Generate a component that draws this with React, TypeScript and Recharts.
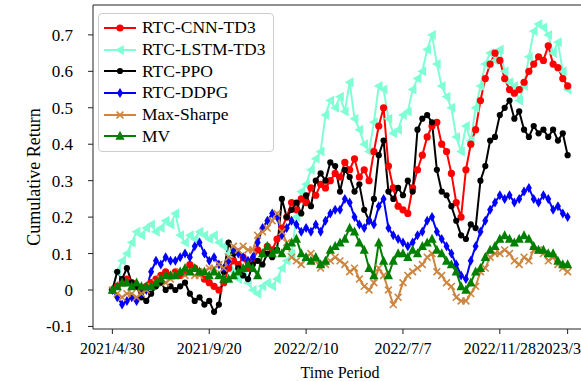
import { LineChart, Line, XAxis, YAxis, Legend, ReferenceLine } from "recharts";

// trading-day index of each x tick and its label
const tickIdx = [0, 20, 40, 60, 80, 94];
const tickLabels = ["2021/4/30", "2021/9/20", "2022/2/10", "2022/7/7", "2022/11/28", "2023/3"];
const yTicks = [-0.1, 0, 0.1, 0.2, 0.3, 0.4, 0.5, 0.6, 0.7];

const cnnTd3 = [
  0.0, 0.01, 0.02, 0.03, 0.02, 0.01, 0.0, 0.01, 0.02, 0.03,
  0.04, 0.05, 0.04, 0.05, 0.04, 0.05, 0.07, 0.06, 0.05, 0.03,
  0.02, 0.01, 0.0, 0.02, 0.06, 0.08, 0.07, 0.09, 0.06, 0.08,
  0.11, 0.1, 0.12, 0.11, 0.14, 0.17, 0.2, 0.24, 0.22, 0.25,
  0.24, 0.28, 0.26, 0.29, 0.28, 0.3, 0.32, 0.31, 0.35, 0.33,
  0.36, 0.31, 0.33, 0.3, 0.38, 0.45, 0.5, 0.34, 0.28, 0.23,
  0.22, 0.21, 0.28, 0.33, 0.37, 0.42, 0.45, 0.46, 0.4, 0.38,
  0.32, 0.24, 0.2, 0.33, 0.4, 0.44, 0.52, 0.58, 0.62, 0.65,
  0.63, 0.58, 0.55, 0.54, 0.55, 0.57, 0.6, 0.62, 0.64, 0.63,
  0.67, 0.62, 0.61, 0.58, 0.56,
];

const lstmTd3 = [
  0.0, 0.05, 0.08, 0.1, 0.13, 0.16, 0.15, 0.17, 0.18, 0.16,
  0.17, 0.19, 0.18, 0.21, 0.15, 0.13, 0.15, 0.14, 0.16, 0.15,
  0.14, 0.15, 0.13, 0.12, 0.1, 0.05, 0.03, 0.04, 0.02, 0.0,
  -0.01, 0.01, 0.02, 0.01, 0.03, 0.06, 0.08, 0.1, 0.2, 0.27,
  0.29, 0.33, 0.36, 0.38, 0.48, 0.52, 0.5, 0.53, 0.49, 0.57,
  0.47, 0.44, 0.4, 0.38, 0.46, 0.56, 0.55, 0.47, 0.43, 0.44,
  0.48, 0.49, 0.55, 0.58, 0.6, 0.66, 0.7, 0.62, 0.56, 0.53,
  0.5, 0.42, 0.38, 0.45, 0.41, 0.5, 0.56, 0.62, 0.65, 0.63,
  0.66, 0.6, 0.57, 0.56, 0.52, 0.56, 0.64, 0.71, 0.73, 0.72,
  0.7, 0.65, 0.68, 0.6, 0.55,
];

const ppo = [
  0.0, 0.05, 0.03, 0.06, 0.02, 0.01, -0.02, -0.03, -0.01, 0.01,
  0.02, 0.0, 0.01, 0.0, 0.01, 0.02, -0.01, -0.03, -0.02, -0.04,
  -0.03, -0.06, -0.04, 0.05, 0.13, 0.1, 0.06, 0.04, 0.03, 0.07,
  0.08, 0.07, 0.1, 0.09, 0.11, 0.25, 0.2, 0.22, 0.24, 0.21,
  0.26, 0.23, 0.3, 0.32, 0.3, 0.35, 0.34, 0.27, 0.33, 0.31,
  0.27, 0.29, 0.22, 0.19, 0.25, 0.37, 0.41, 0.27, 0.25, 0.28,
  0.26, 0.3, 0.27, 0.44, 0.47, 0.48, 0.46, 0.33, 0.27, 0.26,
  0.23, 0.19, 0.15, 0.14, 0.18, 0.17, 0.3, 0.34, 0.41, 0.42,
  0.48, 0.5, 0.52, 0.47, 0.49, 0.44, 0.42, 0.45, 0.43, 0.44,
  0.42, 0.44, 0.41, 0.43, 0.37,
];

const ddpg = [
  0.0, -0.02, -0.04, -0.03, -0.02, -0.03, -0.01, 0.0, 0.05, 0.08,
  0.07, 0.09, 0.08, 0.08, 0.09, 0.1, 0.09, 0.12, 0.13, 0.1,
  0.08, 0.09, 0.07, 0.06, 0.08, 0.11, 0.1, 0.09, 0.08, 0.09,
  0.13, 0.17, 0.19, 0.21, 0.2, 0.15, 0.17, 0.19, 0.18, 0.16,
  0.17, 0.16, 0.18, 0.16, 0.19, 0.21, 0.22, 0.22, 0.25, 0.24,
  0.2, 0.18, 0.17, 0.19, 0.18, 0.23, 0.25, 0.17, 0.15, 0.14,
  0.13, 0.12, 0.13, 0.15, 0.16, 0.19, 0.2, 0.16, 0.14, 0.12,
  0.1, 0.07, 0.04, 0.03, 0.08, 0.12, 0.16, 0.19, 0.22, 0.24,
  0.26, 0.25, 0.26, 0.24, 0.25, 0.27, 0.28, 0.25, 0.24, 0.26,
  0.25, 0.22, 0.23, 0.21, 0.2,
];

const maxSharpe = [
  0.0, -0.01, -0.02, -0.01, -0.01, -0.02, -0.01, 0.0, 0.01, 0.02,
  0.03, 0.02, 0.03, 0.04, 0.05, 0.04, 0.05, 0.04, 0.04, 0.05,
  0.06, 0.06, 0.07, 0.06, 0.09, 0.12, 0.11, 0.12, 0.11, 0.11,
  0.15, 0.16, 0.17, 0.19, 0.21, 0.16, 0.13, 0.09, 0.08, 0.07,
  0.09, 0.1, 0.08, 0.06, 0.07, 0.08, 0.09, 0.08, 0.07, 0.05,
  0.06, 0.03, 0.01, 0.0, 0.02, 0.06, 0.04, 0.0, -0.04, -0.02,
  0.02, 0.04, 0.05, 0.06, 0.07, 0.09, 0.1, 0.05, 0.04, 0.02,
  0.01, -0.02, -0.03, -0.03, -0.01, 0.01, 0.05, 0.06, 0.09, 0.1,
  0.1, 0.11, 0.1, 0.08, 0.07, 0.09, 0.08, 0.11, 0.11, 0.1,
  0.08, 0.09, 0.07, 0.06, 0.05,
];

const mv = [
  0.0, 0.01, 0.02, 0.02, 0.01, 0.02, 0.01, 0.01, 0.01, 0.02,
  0.03, 0.04, 0.04, 0.04, 0.05, 0.06, 0.05, 0.06, 0.05, 0.05,
  0.04, 0.05, 0.04, 0.03, 0.03, 0.04, 0.05, 0.06, 0.07, 0.06,
  0.04, 0.1, 0.12, 0.1, 0.11, 0.1, 0.12, 0.13, 0.14, 0.1,
  0.09, 0.08, 0.09, 0.07, 0.08, 0.11, 0.12, 0.13, 0.14, 0.17,
  0.16, 0.13, 0.11, 0.06, 0.04, 0.13, 0.08, 0.04, 0.08, 0.1,
  0.1, 0.09, 0.11, 0.1, 0.12, 0.13, 0.14, 0.11, 0.1, 0.08,
  0.07, 0.05, 0.01, 0.0, 0.02, 0.05, 0.06, 0.09, 0.11, 0.12,
  0.14, 0.15, 0.14, 0.13, 0.14, 0.15, 0.14, 0.12, 0.11, 0.11,
  0.1, 0.1, 0.08, 0.07, 0.07,
];

// legend order
const series = [
  { key: "cnn", name: "RTC-CNN-TD3", color: "#ff0000", shape: "circle", values: cnnTd3 },
  { key: "lstm", name: "RTC-LSTM-TD3", color: "#7fffd4", shape: "triLeft", values: lstmTd3 },
  { key: "ppo", name: "RTC-PPO", color: "#000000", shape: "point", values: ppo },
  { key: "ddpg", name: "RTC-DDPG", color: "#0000ff", shape: "diamond", values: ddpg },
  { key: "ms", name: "Max-Sharpe", color: "#cd853f", shape: "x", values: maxSharpe },
  { key: "mv", name: "MV", color: "#008000", shape: "triUp", values: mv },
];
// drawing order (later = on top)
const drawOrder = ["lstm", "cnn", "ppo", "ddpg", "ms", "mv"];

const data = cnnTd3.map((_, i) => {
  const row: Record<string, number> = { t: i };
  series.forEach((s) => (row[s.key] = s.values[i]));
  return row;
});

const FONT = "'Liberation Serif', 'Times New Roman', serif";

function Marker({ cx, cy, shape, color }: { cx: number; cy: number; shape: string; color: string }) {
  if (cx == null || cy == null) return null;
  switch (shape) {
    case "circle":
      return <circle cx={cx} cy={cy} r={3.6} fill={color} />;
    case "point":
      return <circle cx={cx} cy={cy} r={3.1} fill={color} />;
    case "triLeft":
      return <polygon points={`${cx - 5},${cy} ${cx + 3.8},${cy - 5} ${cx + 3.8},${cy + 5}`} fill={color} />;
    case "triUp":
      return <polygon points={`${cx},${cy - 5.2} ${cx - 4.6},${cy + 3.8} ${cx + 4.6},${cy + 3.8}`} fill={color} />;
    case "diamond":
      return <polygon points={`${cx},${cy - 5} ${cx + 3},${cy} ${cx},${cy + 5} ${cx - 3},${cy}`} fill={color} />;
    case "x":
      return (
        <g stroke={color} strokeWidth={1.6}>
          <line x1={cx - 3.4} y1={cy - 3.4} x2={cx + 3.4} y2={cy + 3.4} />
          <line x1={cx - 3.4} y1={cy + 3.4} x2={cx + 3.4} y2={cy - 3.4} />
        </g>
      );
    default:
      return null;
  }
}

function LegendBox() {
  return (
    <div
      style={{
        border: "1px solid #cccccc",
        borderRadius: 4,
        background: "rgba(255,255,255,0.85)",
        padding: "3px 0 4px 4px",
        fontFamily: FONT,
        fontSize: 17.5,
        color: "#000",
      }}
    >
      {series.map((s) => (
        <div key={s.key} style={{ display: "flex", alignItems: "center", height: 21.7 }}>
          <svg width={36} height={12} style={{ flex: "none" }}>
            <line x1={1} y1={6} x2={33} y2={6} stroke={s.color} strokeWidth={2} />
            <Marker cx={17} cy={6} shape={s.shape} color={s.color} />
          </svg>
          <span style={{ marginLeft: 3, whiteSpace: "nowrap" }}>{s.name}</span>
        </div>
      ))}
    </div>
  );
}

const yLabel = () => {
  const cx = 34;
  const cy = 177;
  return (
    <text
      x={cx}
      y={cy}
      transform={`rotate(-90, ${cx}, ${cy})`}
      textAnchor="middle"
      dominantBaseline="central"
      fontFamily={FONT}
      fontSize={18}
      fill="#000"
    >
      Cumulative Return
    </text>
  );
};

// last label sits at the right edge, as in the source figure
const XTick = (props: any) => {
  const { x, y, payload } = props;
  const i = tickIdx.indexOf(payload.value);
  const last = i === tickIdx.length - 1;
  return (
    <text
      x={last ? 581 : x}
      y={y}
      dy="0.71em"
      textAnchor={last ? "end" : "middle"}
      fontFamily={FONT}
      fontSize={16}
      fill="#000"
    >
      {tickLabels[i]}
    </text>
  );
};

export default function App() {
  return (
    <div
      style={{
        position: "fixed",
        top: 0,
        left: 0,
        width: 581,
        height: 381,
        overflow: "hidden",
        background: "#fff",
      }}
    >
      <LineChart width={600} height={381} data={data} margin={{ top: 5, right: 13, left: 0, bottom: 0 }}>
        <XAxis
          dataKey="t"
          type="number"
          domain={[-4, 98]}
          ticks={tickIdx}
          interval={0}
          height={52}
          tickSize={5}
          tickMargin={9}
          stroke="#222"
          tick={<XTick />}
          allowDataOverflow
          label={{ value: "Time Period", position: "insideBottom", offset: 3, fontFamily: FONT, fontSize: 16, fill: "#000" }}
        />
        <YAxis
          type="number"
          domain={[-0.107, 0.782]}
          ticks={yTicks}
          tickFormatter={(v: number) => (v === 0 ? "0" : v.toFixed(1))}
          width={93}
          tickSize={5}
          tickMargin={15}
          stroke="#222"
          tick={{ fill: "#000", fontFamily: FONT, fontSize: 17 }}
          allowDataOverflow
          label={{ content: yLabel }}
        />
        <ReferenceLine y={0.782} stroke="#222" strokeWidth={1} />
        {drawOrder.map((k) => {
          const s = series.find((x) => x.key === k)!;
          return (
            <Line
              key={s.key}
              dataKey={s.key}
              name={s.name}
              stroke={s.color}
              strokeWidth={2}
              isAnimationActive={false}
              activeDot={false}
              dot={(p: any) => <Marker key={`${s.key}-${p.index}`} cx={p.cx} cy={p.cy} shape={s.shape} color={s.color} />}
            />
          );
        })}
        <Legend
          layout="vertical"
          align="center"
          verticalAlign="middle"
          wrapperStyle={{ left: 98, top: 13, width: 176 }}
          content={() => <LegendBox />}
        />
      </LineChart>
    </div>
  );
}
